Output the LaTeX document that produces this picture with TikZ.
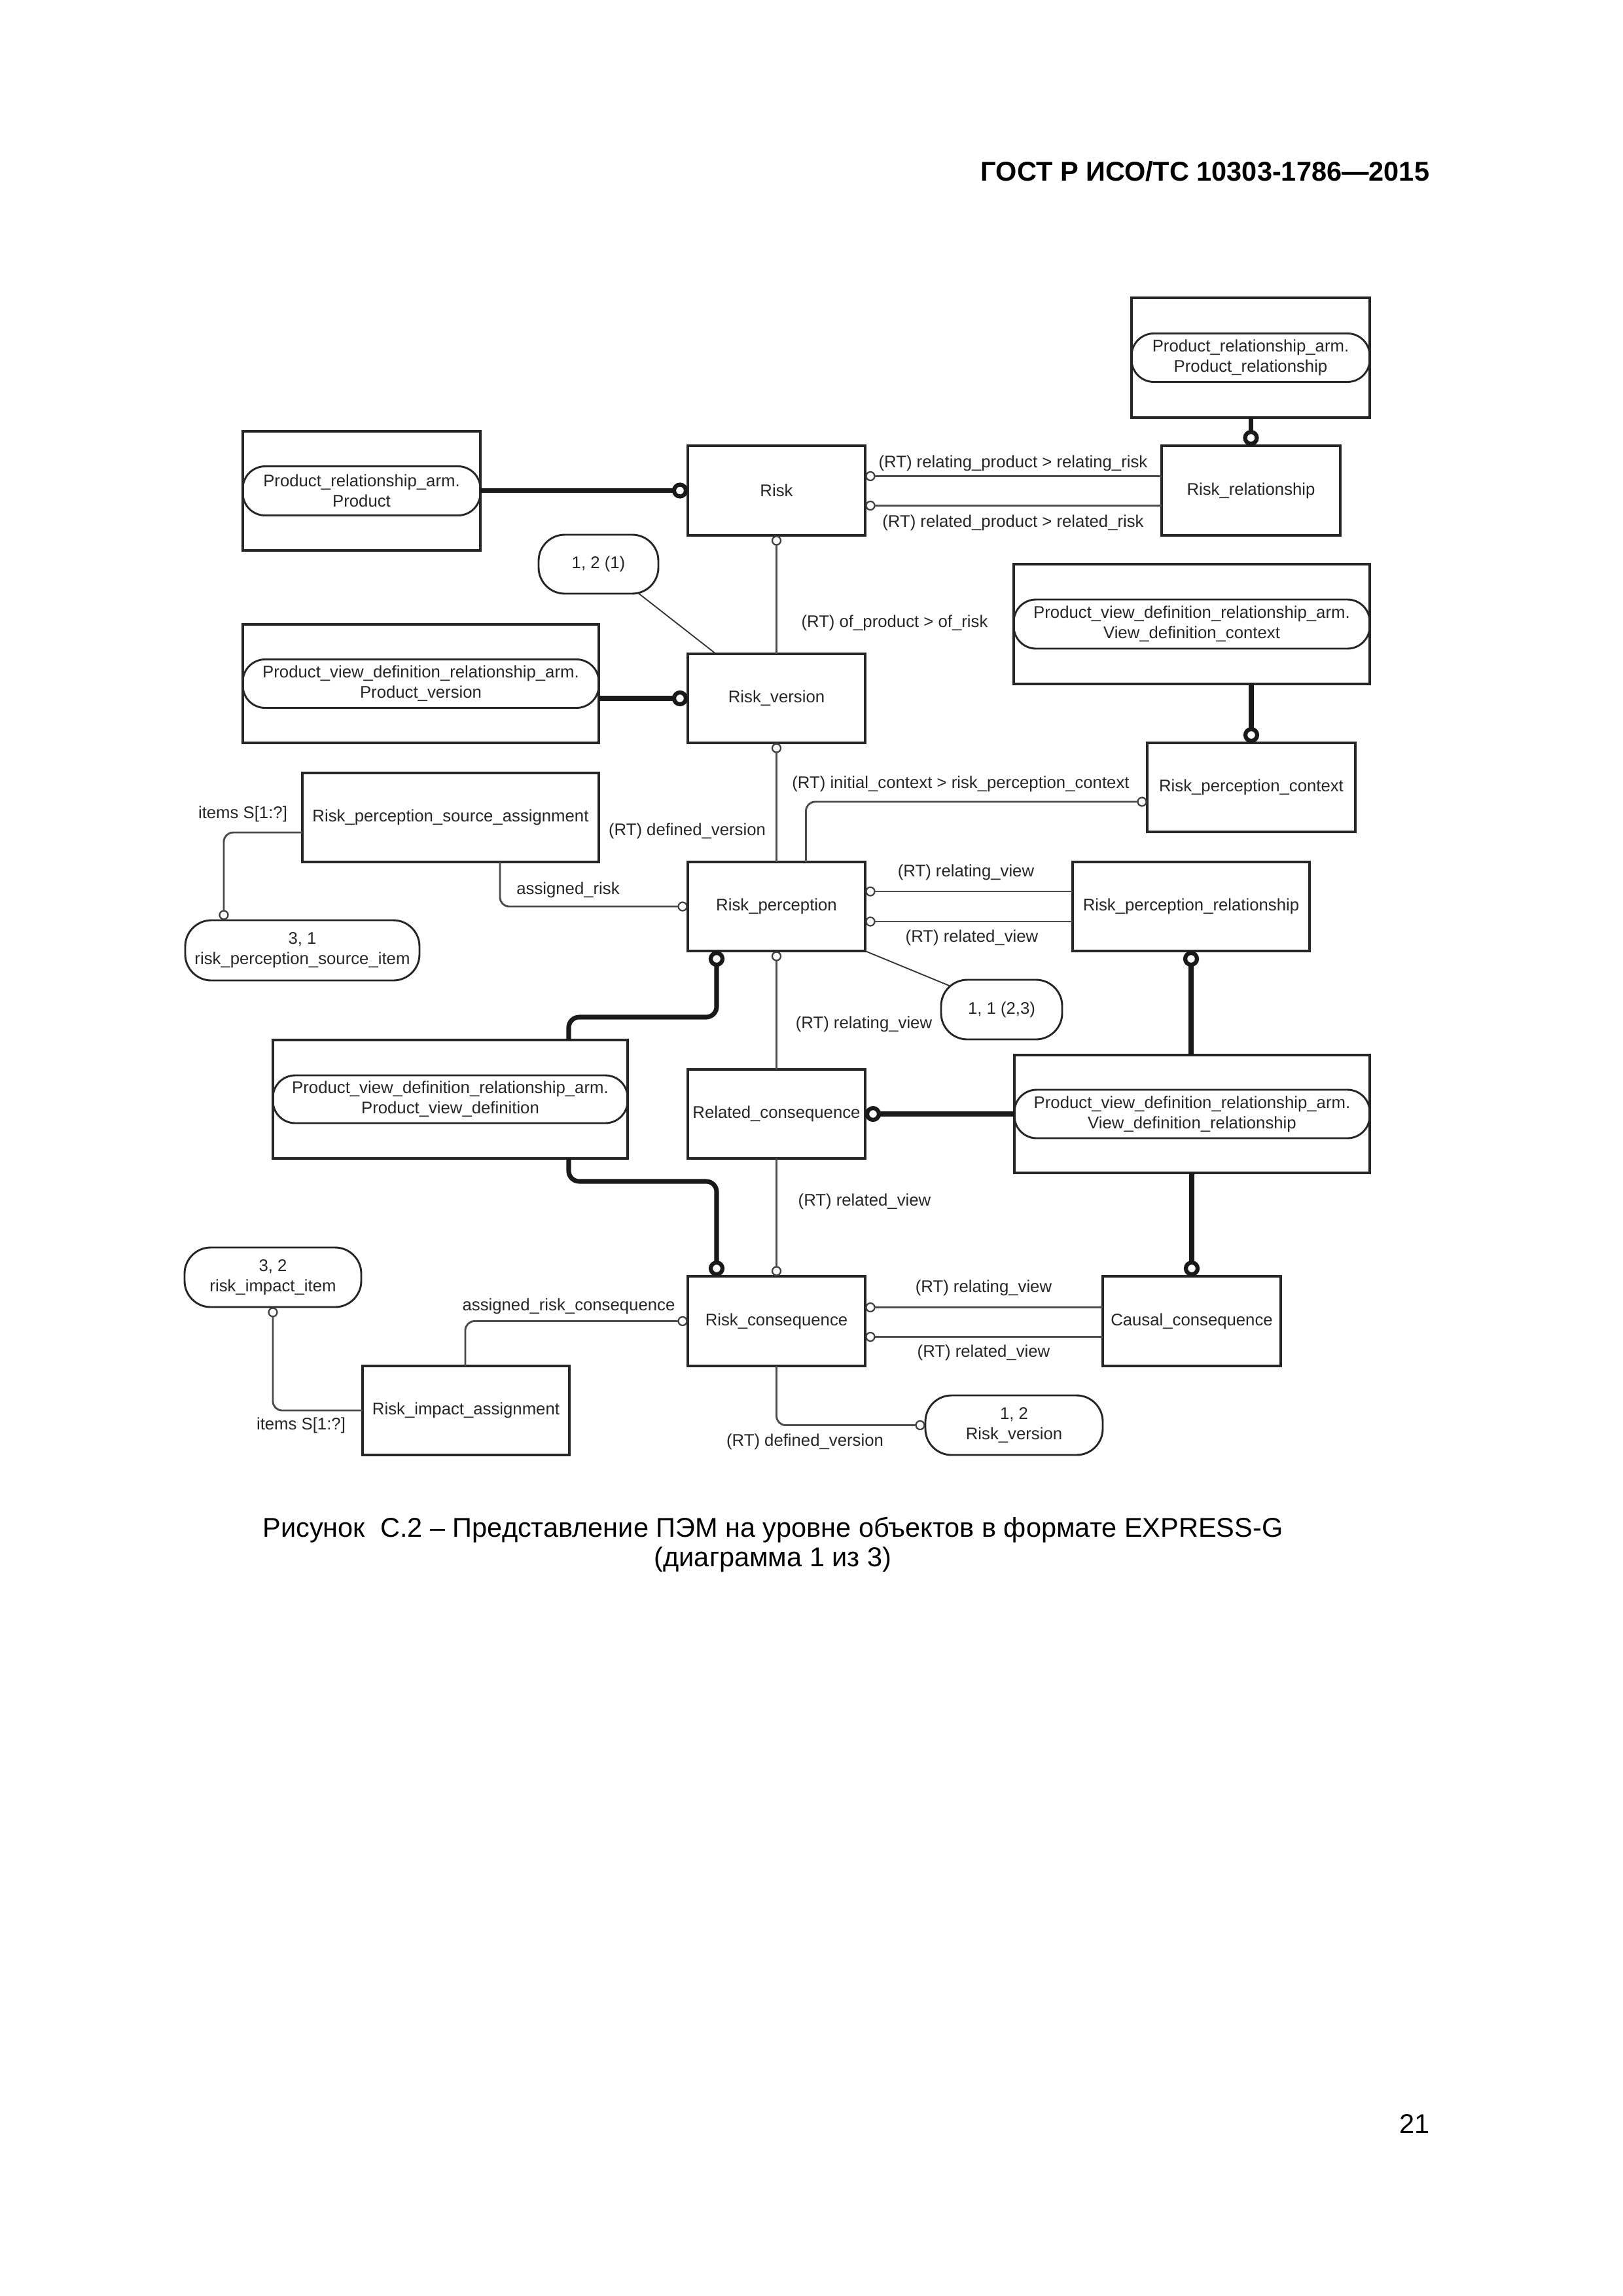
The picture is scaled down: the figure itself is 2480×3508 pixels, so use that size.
\documentclass[tikz,border=0pt]{standalone}
\usepackage{fontspec}
\setmainfont{Liberation Sans}
\usetikzlibrary{calc}
\newlength\pxu
\setlength\pxu{0.084677mm}
\newcommand\dfont{\fontsize{6.2}{7.5}\selectfont}
\tikzset{
  ent/.style={draw=black!85, line width=0.8pt, fill=white, inner sep=0pt, outer sep=0pt, font=\dfont, text=black!85, anchor=north west},
  bigbox/.style={draw=black!85, line width=0.8pt, inner sep=0pt, outer sep=0pt, anchor=north west},
  pill/.style={draw=black!85, line width=0.7pt, rounded corners=34\pxu, inner sep=0pt, outer sep=0pt, font=\dfont, text=black!85, align=center},
  oval/.style={draw=black!85, line width=0.7pt, rounded corners=40\pxu, inner sep=0pt, outer sep=0pt, font=\dfont, text=black!85, align=center, anchor=north west},
  conn/.style={draw=black!70, line width=0.7pt, rounded corners=14\pxu},
  thk/.style={draw=black!90, line width=1.7pt, rounded corners=16\pxu},
  smallc/.style={circle, draw=black!75, line width=0.55pt, fill=white, minimum size=13\pxu, inner sep=0pt, outer sep=0pt},
  bigc/.style={circle, draw=black!90, line width=1.5pt, fill=white, minimum size=18\pxu, inner sep=0pt, outer sep=0pt},
  lbl/.style={font=\dfont, text=black!85, inner sep=0pt},
  note/.style={draw=black!80, line width=0.45pt}
}
\begin{document}
\begin{tikzpicture}[x=0.084677mm, y=-0.084677mm]
\fill[white] (0,0) rectangle (2480,3508);
\useasboundingbox (0,0) rectangle (2480,3508);

% header, page number, caption
\node[anchor=east, inner sep=0pt, font=\bfseries\fontsize{10}{12}\selectfont] (hdr) at (2185,262) {ГОСТ Р ИСО/ТС 10303-1786—2015};
\node[anchor=east, inner sep=0pt, font=\fontsize{10}{12}\selectfont] (pg) at (2185,3245) {21};
\node[inner sep=0pt, align=center, font=\fontsize{10}{10.8}\selectfont] (cap) at (1181,2360) {Рисунок\ \ С.2 – Представление ПЭМ на уровне объектов в формате EXPRESS-G\\(диаграмма 1 из 3)};

% big boxes with pills
\node[bigbox, minimum width=364\pxu, minimum height=183\pxu] (prpr) at (1729,455) {};
\node[pill, minimum width=364\pxu, minimum height=74\pxu] (prprP) at (prpr.center) {Product\_relationship\_arm.\\Product\_relationship};
\node[bigbox, minimum width=363\pxu, minimum height=182\pxu] (prp) at (371,659) {};
\node[pill, minimum width=363\pxu, minimum height=75\pxu] (prpP) at (prp.center) {Product\_relationship\_arm.\\Product};
\node[bigbox, minimum width=544\pxu, minimum height=181\pxu] (pvpv) at (371,954) {};
\node[pill, minimum width=544\pxu, minimum height=74\pxu] (pvpvP) at (pvpv.center) {Product\_view\_definition\_relationship\_arm.\\Product\_version};
\node[bigbox, minimum width=544\pxu, minimum height=183\pxu] (pvdc) at (1549,862) {};
\node[pill, minimum width=544\pxu, minimum height=75\pxu] (pvdcP) at (pvdc.center) {Product\_view\_definition\_relationship\_arm.\\View\_definition\_context};
\node[bigbox, minimum width=542\pxu, minimum height=181\pxu] (pvpd) at (417,1589) {};
\node[pill, minimum width=542\pxu, minimum height=73\pxu] (pvpdP) at (pvpd.center) {Product\_view\_definition\_relationship\_arm.\\Product\_view\_definition};
\node[bigbox, minimum width=543\pxu, minimum height=180\pxu] (pvdr) at (1550,1612) {};
\node[pill, minimum width=543\pxu, minimum height=74\pxu] (pvdrP) at (pvdr.center) {Product\_view\_definition\_relationship\_arm.\\View\_definition\_relationship};

% entities
\node[ent, minimum width=271\pxu, minimum height=137\pxu] (risk) at (1051,681) {Risk};
\node[ent, minimum width=273\pxu, minimum height=137\pxu] (rrel) at (1775,681) {Risk\_relationship};
\node[ent, minimum width=271\pxu, minimum height=136\pxu] (rv) at (1051,999) {Risk\_version};
\node[ent, minimum width=271\pxu, minimum height=136\pxu] (rp) at (1051,1317) {Risk\_perception};
\node[ent, minimum width=453\pxu, minimum height=136\pxu] (rpsa) at (462,1181) {Risk\_perception\_source\_assignment};
\node[ent, minimum width=318\pxu, minimum height=136\pxu] (rpc) at (1753,1135) {Risk\_perception\_context};
\node[ent, minimum width=362\pxu, minimum height=136\pxu] (rpr) at (1639,1317) {Risk\_perception\_relationship};
\node[ent, minimum width=271\pxu, minimum height=136\pxu] (rc) at (1051,1634) {Related\_consequence};
\node[ent, minimum width=271\pxu, minimum height=137\pxu] (rcq) at (1051,1950) {Risk\_consequence};
\node[ent, minimum width=272\pxu, minimum height=137\pxu] (cc) at (1685,1950) {Causal\_consequence};
\node[ent, minimum width=316\pxu, minimum height=136\pxu] (ria) at (554,2087) {Risk\_impact\_assignment};

% page-reference ovals
\node[oval, minimum width=183\pxu, minimum height=90\pxu] (o1) at (823,817) {1, 2 (1)};
\node[oval, minimum width=185\pxu, minimum height=91\pxu] (o2) at (1438,1497) {1, 1 (2,3)};
\node[oval, minimum width=358\pxu, minimum height=92\pxu] (o3) at (283,1406) {3, 1\\risk\_perception\_source\_item};
\node[oval, minimum width=271\pxu, minimum height=91\pxu] (o4) at (1414,2132) {1, 2\\Risk\_version};
\node[oval, minimum width=270\pxu, minimum height=91\pxu] (o5) at (282,1906) {3, 2\\risk\_impact\_item};

% A
\node[bigc] (bA) at ($(rrel.north)+(0,-12)$) {};
\draw[thk] (bA |- prpr.south) -- (bA);
% B
\node[bigc] (bB) at ($(risk.west)+(-12,0)$) {};
\draw[thk] (prp.east |- bB) -- (bB);
% C, D
\node[smallc] (sC) at ($(risk.east)+(8,-22)$) {};
\draw[conn] (sC) -- (sC -| rrel.west);
\node[lbl] (lC) at (1548,708) {(RT) relating\_product > relating\_risk};
\node[smallc] (sD) at ($(risk.east)+(8,23)$) {};
\draw[conn] (sD) -- (sD -| rrel.west);
\node[lbl] (lD) at (1548,799) {(RT) related\_product > related\_risk};
% E
\node[smallc] (sE) at ($(risk.south)+(0,8)$) {};
\draw[conn] (sE) -- (rv.north);
\node[lbl] (lE) at (1367,952) {(RT) of\_product > of\_risk};
% F
\draw[note] ($(o1.south east)+(-31,-1)$) -- ($(rv.north west)+(43,0)$);
% G
\node[bigc] (bG) at ($(rv.west)+(-12,0)$) {};
\draw[thk] (pvpv.east |- bG) -- (bG);
% H
\node[smallc] (sH) at ($(rv.south)+(0,8)$) {};
\draw[conn] (sH) -- (rp.north);
\node[lbl] (lH) at (1050,1270) {(RT) defined\_version};
% I
\node[bigc] (bI) at ($(rpc.north)+(0,-12)$) {};
\draw[thk] (bI |- pvdc.south) -- (bI);
% J
\node[smallc] (sJ) at ($(rpc.west)+(-8,22)$) {};
\draw[conn] ($(rp.north)+(45,0)$) |- (sJ);
\node[lbl] (lJ) at (1468,1198) {(RT) initial\_context > risk\_perception\_context};
% K
\node[smallc] (sK) at ($(rp.west)+(-8,0)$) {};
\draw[conn] ($(rpsa.south west)+(302,0)$) |- (sK);
\node[lbl] (lK) at (868,1360) {assigned\_risk};
% L
\node[smallc] (sL) at ($(o3.north west)+(59,-8)$) {};
\draw[conn] ($(rpsa.west)+(0,23)$) -| (sL);
\node[lbl] (lL) at (371,1244) {items S[1:?]};
% M, N
\node[smallc] (sM) at ($(rp.east)+(8,-23)$) {};
\draw[conn] (sM) -- (sM -| rpr.west);
\node[lbl] (lM) at (1476,1333) {(RT) relating\_view};
\node[smallc] (sN) at ($(rp.east)+(8,23)$) {};
\draw[conn] (sN) -- (sN -| rpr.west);
\node[lbl] (lN) at (1485,1433) {(RT) related\_view};
% O
\draw[note] (rp.south east) -- ($(o2.north west)+(15,10)$);
% P
\node[smallc] (sP) at ($(rp.south)+(0,8)$) {};
\draw[conn] (sP) -- (rc.north);
\node[lbl] (lP) at (1320,1565) {(RT) relating\_view};
% Q
\node[bigc] (bQ) at ($(rp.south west)+(44,12)$) {};
\coordinate (qA) at ($(pvpd.north west)+(452,0)$);
\draw[thk] (bQ) |- ($(qA)+(0,-35)$) -- (qA);
% R
\node[bigc] (bR) at ($(rcq.north west)+(44,-12)$) {};
\coordinate (rA) at ($(pvpd.south west)+(452,0)$);
\draw[thk] (rA) -- ($(rA)+(0,35)$) -| (bR);
% S
\node[bigc] (bS) at ($(rc.east)+(12,0)$) {};
\draw[thk] (bS) -- (bS -| pvdr.west);
% T
\node[bigc] (bT) at ($(rpr.south)+(0,12)$) {};
\draw[thk] (bT) -- (bT |- pvdr.north);
% U
\node[bigc] (bU) at ($(cc.north)+(0,-12)$) {};
\draw[thk] (bU |- pvdr.south) -- (bU);
% V
\node[smallc] (sV) at ($(rcq.north)+(0,-8)$) {};
\draw[conn] (rc.south) -- (sV);
\node[lbl] (lV) at (1321,1836) {(RT) related\_view};
% W, X
\node[smallc] (sW) at ($(rcq.east)+(8,-21)$) {};
\draw[conn] (sW) -- (sW -| cc.west);
\node[lbl] (lW) at (1503,1968) {(RT) relating\_view};
\node[smallc] (sX) at ($(rcq.east)+(8,24)$) {};
\draw[conn] (sX) -- (sX -| cc.west);
\node[lbl] (lX) at (1503,2067) {(RT) related\_view};
% Y
\node[smallc] (sY) at ($(o4.west)+(-8,0)$) {};
\draw[conn] (rcq.south) |- (sY);
\node[lbl] (lY) at (1230,2203) {(RT) defined\_version};
% Z
\node[smallc] (sZ) at ($(rcq.west)+(-8,0)$) {};
\draw[conn] ($(ria.north west)+(157,0)$) |- (sZ);
\node[lbl] (lZ) at (869,1996) {assigned\_risk\_consequence};
% AA
\node[smallc] (sAA) at ($(o5.south)+(0,8)$) {};
\draw[conn] (ria.west) -| (sAA);
\node[lbl] (lAA) at (460,2178) {items S[1:?]};
\end{tikzpicture}
\end{document}
